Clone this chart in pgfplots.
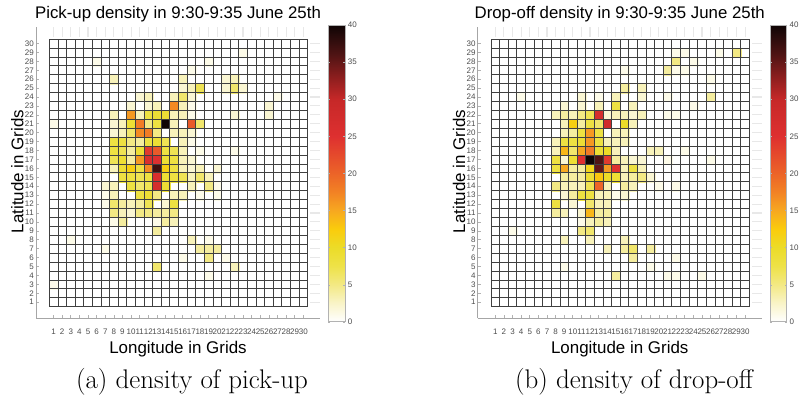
\documentclass[border=0pt]{standalone}
\usepackage{pgfplots}
\usepackage{pgfplotstable}
\pgfplotsset{compat=1.18}
\usepackage{fontspec}
\newfontfamily\arial{Liberation Sans}
\pgfkeys{/pgf/number format/assume math mode=true}

\pgfplotstableread{
x y c
6 28 1
19 28 1
23 29 1
17 27 1
8 26 3
16 26 3
21 26 2
22 26 3
16 25 2
17 25 3
18 25 7
21 25 2
22 25 6
23 25 2
11 24 2
12 24 3
15 24 3
16 24 6
17 24 2
27 24 1
10 23 2
12 23 2
13 23 3
15 23 17
16 23 3
17 23 1
26 23 2
8 22 3
10 22 16
11 22 3
12 22 8
13 22 9
14 22 9
15 22 3
16 22 3
17 22 1
22 22 2
26 22 2
1 21 1
8 21 2
9 21 3
10 21 9
11 21 18
12 21 5
13 21 8
14 21 40
15 21 3
17 21 21
18 21 6
8 20 2
9 20 3
10 20 6
11 20 17
12 20 18
13 20 5
15 20 3
16 20 3
17 20 2
8 19 8
9 19 8
10 19 5
11 19 4
12 19 8
13 19 9
14 19 7
16 19 3
17 19 1
8 18 8
9 18 7
10 18 4
11 18 9
12 18 24
13 18 21
14 18 8
15 18 7
16 18 3
18 18 1
22 18 1
8 17 7
9 17 9
10 17 4
11 17 16
12 17 26
13 17 25
14 17 9
15 17 8
16 17 3
17 17 2
8 16 3
9 16 9
10 16 12
11 16 8
12 16 17
13 16 37
14 16 12
15 16 8
16 16 3
17 16 2
18 16 3
20 16 2
9 15 8
10 15 8
11 15 7
12 15 8
13 15 26
14 15 9
15 15 8
16 15 7
17 15 3
18 15 6
19 15 3
7 14 2
8 14 3
10 14 8
11 14 6
12 14 7
13 14 27
14 14 9
17 14 3
19 14 5
20 14 1
7 13 1
8 13 3
11 13 8
12 13 9
13 13 5
15 13 3
16 13 3
18 13 1
20 13 1
7 12 1
8 12 6
9 12 4
10 12 3
11 12 4
12 12 7
14 12 2
15 12 8
8 11 5
9 11 3
10 11 2
11 11 5
12 11 5
13 11 4
14 11 4
15 11 5
8 10 1
9 10 4
13 10 1
14 10 4
15 10 3
13 9 4
3 8 1
17 8 3
19 8 1
7 7 1
18 7 4
19 7 4
20 7 4
16 6 1
19 6 5
21 6 1
13 5 6
22 5 3
19 4 1
1 3 1
}\pickup

\pgfplotstableread{
x y c
22 29 1
23 29 1
27 29 1
29 29 5
22 28 5
24 28 1
16 27 1
21 27 4
22 27 1
23 27 1
26 26 1
16 25 4
18 25 3
4 24 1
11 24 2
13 24 1
15 24 3
18 24 2
21 24 1
26 24 4
9 23 2
11 23 2
13 23 3
15 23 8
17 23 3
24 23 1
8 22 3
9 22 4
10 22 3
11 22 5
12 22 7
13 22 27
14 22 2
15 22 3
16 22 3
17 22 2
18 22 3
21 22 1
22 22 1
9 21 3
10 21 12
11 21 4
12 21 8
13 21 6
14 21 28
16 21 10
17 21 3
9 20 3
10 20 4
11 20 8
12 20 16
13 20 8
15 20 3
16 20 3
8 19 3
9 19 8
10 19 8
11 19 9
12 19 16
13 19 8
14 19 3
15 19 3
16 19 3
8 18 3
9 18 14
10 18 6
11 18 15
12 18 18
13 18 9
14 18 10
15 18 3
19 18 3
20 18 3
23 18 1
8 17 8
9 17 2
10 17 9
11 17 25
12 17 42
13 17 36
14 17 24
15 17 4
16 17 3
17 17 2
18 17 2
21 17 1
26 17 1
8 16 8
9 16 15
10 16 4
11 16 4
12 16 11
13 16 35
14 16 16
15 16 25
16 16 3
17 16 8
18 16 3
9 15 4
10 15 4
11 15 4
12 15 9
13 15 13
14 15 10
15 15 9
16 15 3
17 15 4
18 15 5
19 15 2
8 14 5
9 14 3
10 14 3
11 14 3
12 14 7
13 14 20
14 14 3
16 14 4
17 14 3
20 14 1
22 14 1
9 13 2
10 13 4
11 13 8
12 13 8
13 13 3
14 13 3
15 13 1
16 13 2
8 12 8
10 12 2
12 12 6
13 12 3
14 12 3
8 11 4
9 11 3
11 11 2
12 11 14
13 11 4
14 11 4
11 10 1
12 10 3
13 10 4
14 10 3
3 9 1
11 9 5
12 9 6
9 8 3
12 8 3
16 8 3
14 7 3
16 7 4
17 7 6
19 7 4
17 6 4
22 6 1
9 5 1
19 5 1
15 4 4
21 4 1
22 4 1
25 4 1
}\dropoff

\tikzset{hmgrid/.style={black!75, line width=0.55pt}}

\pgfplotsset{
  colormap={hotr}{rgb255(0cm)=(255,255,255); rgb255(2.5cm)=(249,244,200); rgb255(5cm)=(243,233,132); rgb255(7.5cm)=(238,226,72); rgb255(10cm)=(236,220,40); rgb255(12.5cm)=(250,204,12); rgb255(15cm)=(247,168,32); rgb255(17.5cm)=(242,130,36); rgb255(20cm)=(236,100,40); rgb255(25cm)=(222,48,48); rgb255(30cm)=(198,40,40); rgb255(33cm)=(140,30,30); rgb255(36cm)=(80,20,20); rgb255(40cm)=(15,5,5)},
  hmframe/.style={
    scale only axis, width=213pt, height=218.25pt,
    xmin=-1.04, xmax=31.94, ymin=-0.77, ymax=31.85,
    xtick={1,...,30}, ytick={1,...,30},
  },
  hmheat/.style={
    hmframe,
    clip mode=individual,
    axis lines*=left,
    axis line style={-, draw=gray!70, line width=0.6pt},
    tick align=inside, major tick length=2.5pt,
    tick style={gray!60, line width=0.5pt},
    ticklabel style={font=\arial\fontsize{6}{7}\selectfont, text=black!70},
    xticklabel style={inner sep=1pt, yshift=-7pt},
    yticklabel style={inner sep=1.5pt},
    colormap name=hotr, point meta min=0, point meta max=40,
    colorbar,
    colorbar shift/.style={xshift=6.2pt},
    colorbar style={
      at={(parent axis.south east)}, anchor=south west, yshift=-2.8pt,
      scale only axis, width=12.5pt, height=222.5pt,
      ytick={0,5,...,40},
      axis line style={draw=gray!60, line width=0.6pt},
      tick style={gray!60}, major tick length=1.5pt, tick align=inside,
      yticklabel style={font=\arial\fontsize{6}{7}\selectfont, text=black!70, inner sep=2pt},
      yticklabel pos=right,
    },
    every axis title shift=0pt,
    title style={font=\arial\fontsize{12.6}{14}\selectfont, at={(axis description cs:0.5,1.0275)}, anchor=base, yshift=0pt, inner sep=0pt},
    xlabel style={font=\arial\fontsize{12.7}{14}\selectfont, at={(axis description cs:0.5,-0.1203)}, anchor=base, inner sep=0pt},
    ylabel style={font=\arial\fontsize{12.7}{14}\selectfont, at={(axis description cs:-0.0447,0.5034)}, anchor=base, inner sep=0pt},
    xlabel={Longitude in Grids}, ylabel={Latitude in Grids},
  },
  hmfaint/.style={
    hmframe,
    axis line style={draw=none},
    xtick pos=right, ytick pos=right,
    xticklabels={}, yticklabels={},
    tick align=inside, major tick length=7.5pt,
    tick style={gray!18, line width=0.8pt},
  },
  hmcells/.style={
    scatter, only marks, mark=square*, mark size=3.229pt,
    scatter/use mapped color={draw=mapped color, fill=mapped color},
    mark options={yscale=1.036, line width=0.1pt},
    point meta=\thisrow{c},
  },
}

\begin{document}
\begin{tikzpicture}
\useasboundingbox (0,0) rectangle (599.25pt,297.75pt);
% left panel
\begin{axis}[hmfaint, at={(27pt,59.25pt)}, anchor=south west]
\end{axis}
\begin{axis}[hmheat, at={(27pt,59.25pt)}, anchor=south west,
  title={Pick-up density in 9:30-9:35 June 25th}]
\addplot[hmcells] table[x=x, y=y] {\pickup};
\pgfplotsinvokeforeach{0,...,30}{
  \draw[hmgrid] (axis cs:#1.5,0.5) -- (axis cs:#1.5,30.5);
  \draw[hmgrid] (axis cs:0.5,#1.5) -- (axis cs:30.5,#1.5);
}
\end{axis}
% right panel
\begin{axis}[hmfaint, at={(358.3pt,59.25pt)}, anchor=south west]
\end{axis}
\begin{axis}[hmheat, at={(358.3pt,59.25pt)}, anchor=south west,
  title={Drop-off density in 9:30-9:35 June 25th}]
\addplot[hmcells] table[x=x, y=y] {\dropoff};
\pgfplotsinvokeforeach{0,...,30}{
  \draw[hmgrid] (axis cs:#1.5,0.5) -- (axis cs:#1.5,30.5);
  \draw[hmgrid] (axis cs:0.5,#1.5) -- (axis cs:30.5,#1.5);
}
\end{axis}
\node[font=\rmfamily\fontsize{20.2}{22}\selectfont, anchor=base] at (144pt,6.75pt) {(a) density of pick-up};
\node[font=\rmfamily\fontsize{20.2}{22}\selectfont, anchor=base] at (475.5pt,6.75pt) {(b) density of drop-off};
\end{tikzpicture}
\end{document}
